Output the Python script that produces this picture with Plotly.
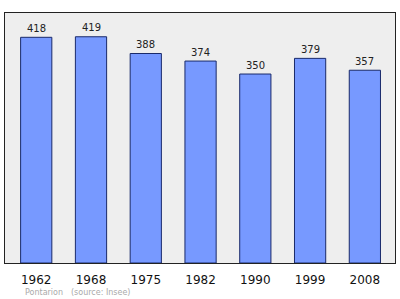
import plotly.graph_objects as go

years = ["1962", "1968", "1975", "1982", "1990", "1999", "2008"]
population = [418, 419, 388, 374, 350, 379, 357]
source_town = "Pontarion"
source_note = "(source: Insee)"

idx = list(range(len(years)))

fig = go.Figure()
fig.add_trace(go.Bar(
    x=idx, y=population, width=0.57,
    marker=dict(color="#7799ff", line=dict(color="#1a2a6a", width=1)),
    hoverinfo="skip",
))
for i, v in zip(idx, population):
    fig.add_annotation(x=i, y=v, text=str(v), showarrow=False, yanchor="middle",
                       yshift=9, font=dict(size=10, color="#222222", family="DejaVu Sans"))

fig.add_annotation(xref="paper", yref="paper", x=0.047, y=-0.116, xanchor="left", yanchor="middle",
                   text=source_town, showarrow=False,
                   font=dict(size=8, color="#aaaaaa", family="DejaVu Sans"))
fig.add_annotation(xref="paper", yref="paper", x=0.165, y=-0.116, xanchor="left", yanchor="middle",
                   text=source_note, showarrow=False,
                   font=dict(size=8, color="#aaaaaa", family="DejaVu Sans"))

fig.update_layout(
    width=400, height=299,
    margin=dict(l=5, r=5, t=13, b=36),
    paper_bgcolor="white", plot_bgcolor="#eeeeee",
    showlegend=False,
    font=dict(family="DejaVu Sans"),
    xaxis=dict(range=[-0.57, 6.55], showgrid=False, tickmode="array", tickvals=idx, ticktext=years,
               ticks="outside", ticklen=6, tickcolor="rgba(0,0,0,0)",
               tickfont=dict(size=12, color="#111111"), showline=True, linecolor="#222222",
               mirror=True, linewidth=1, zeroline=False, fixedrange=True),
    yaxis=dict(range=[0, 463], showgrid=False, showticklabels=False, ticks="",
               showline=True, linecolor="#222222", mirror=True, linewidth=1, zeroline=False,
               fixedrange=True),
)
fig.write_html("out.html")
